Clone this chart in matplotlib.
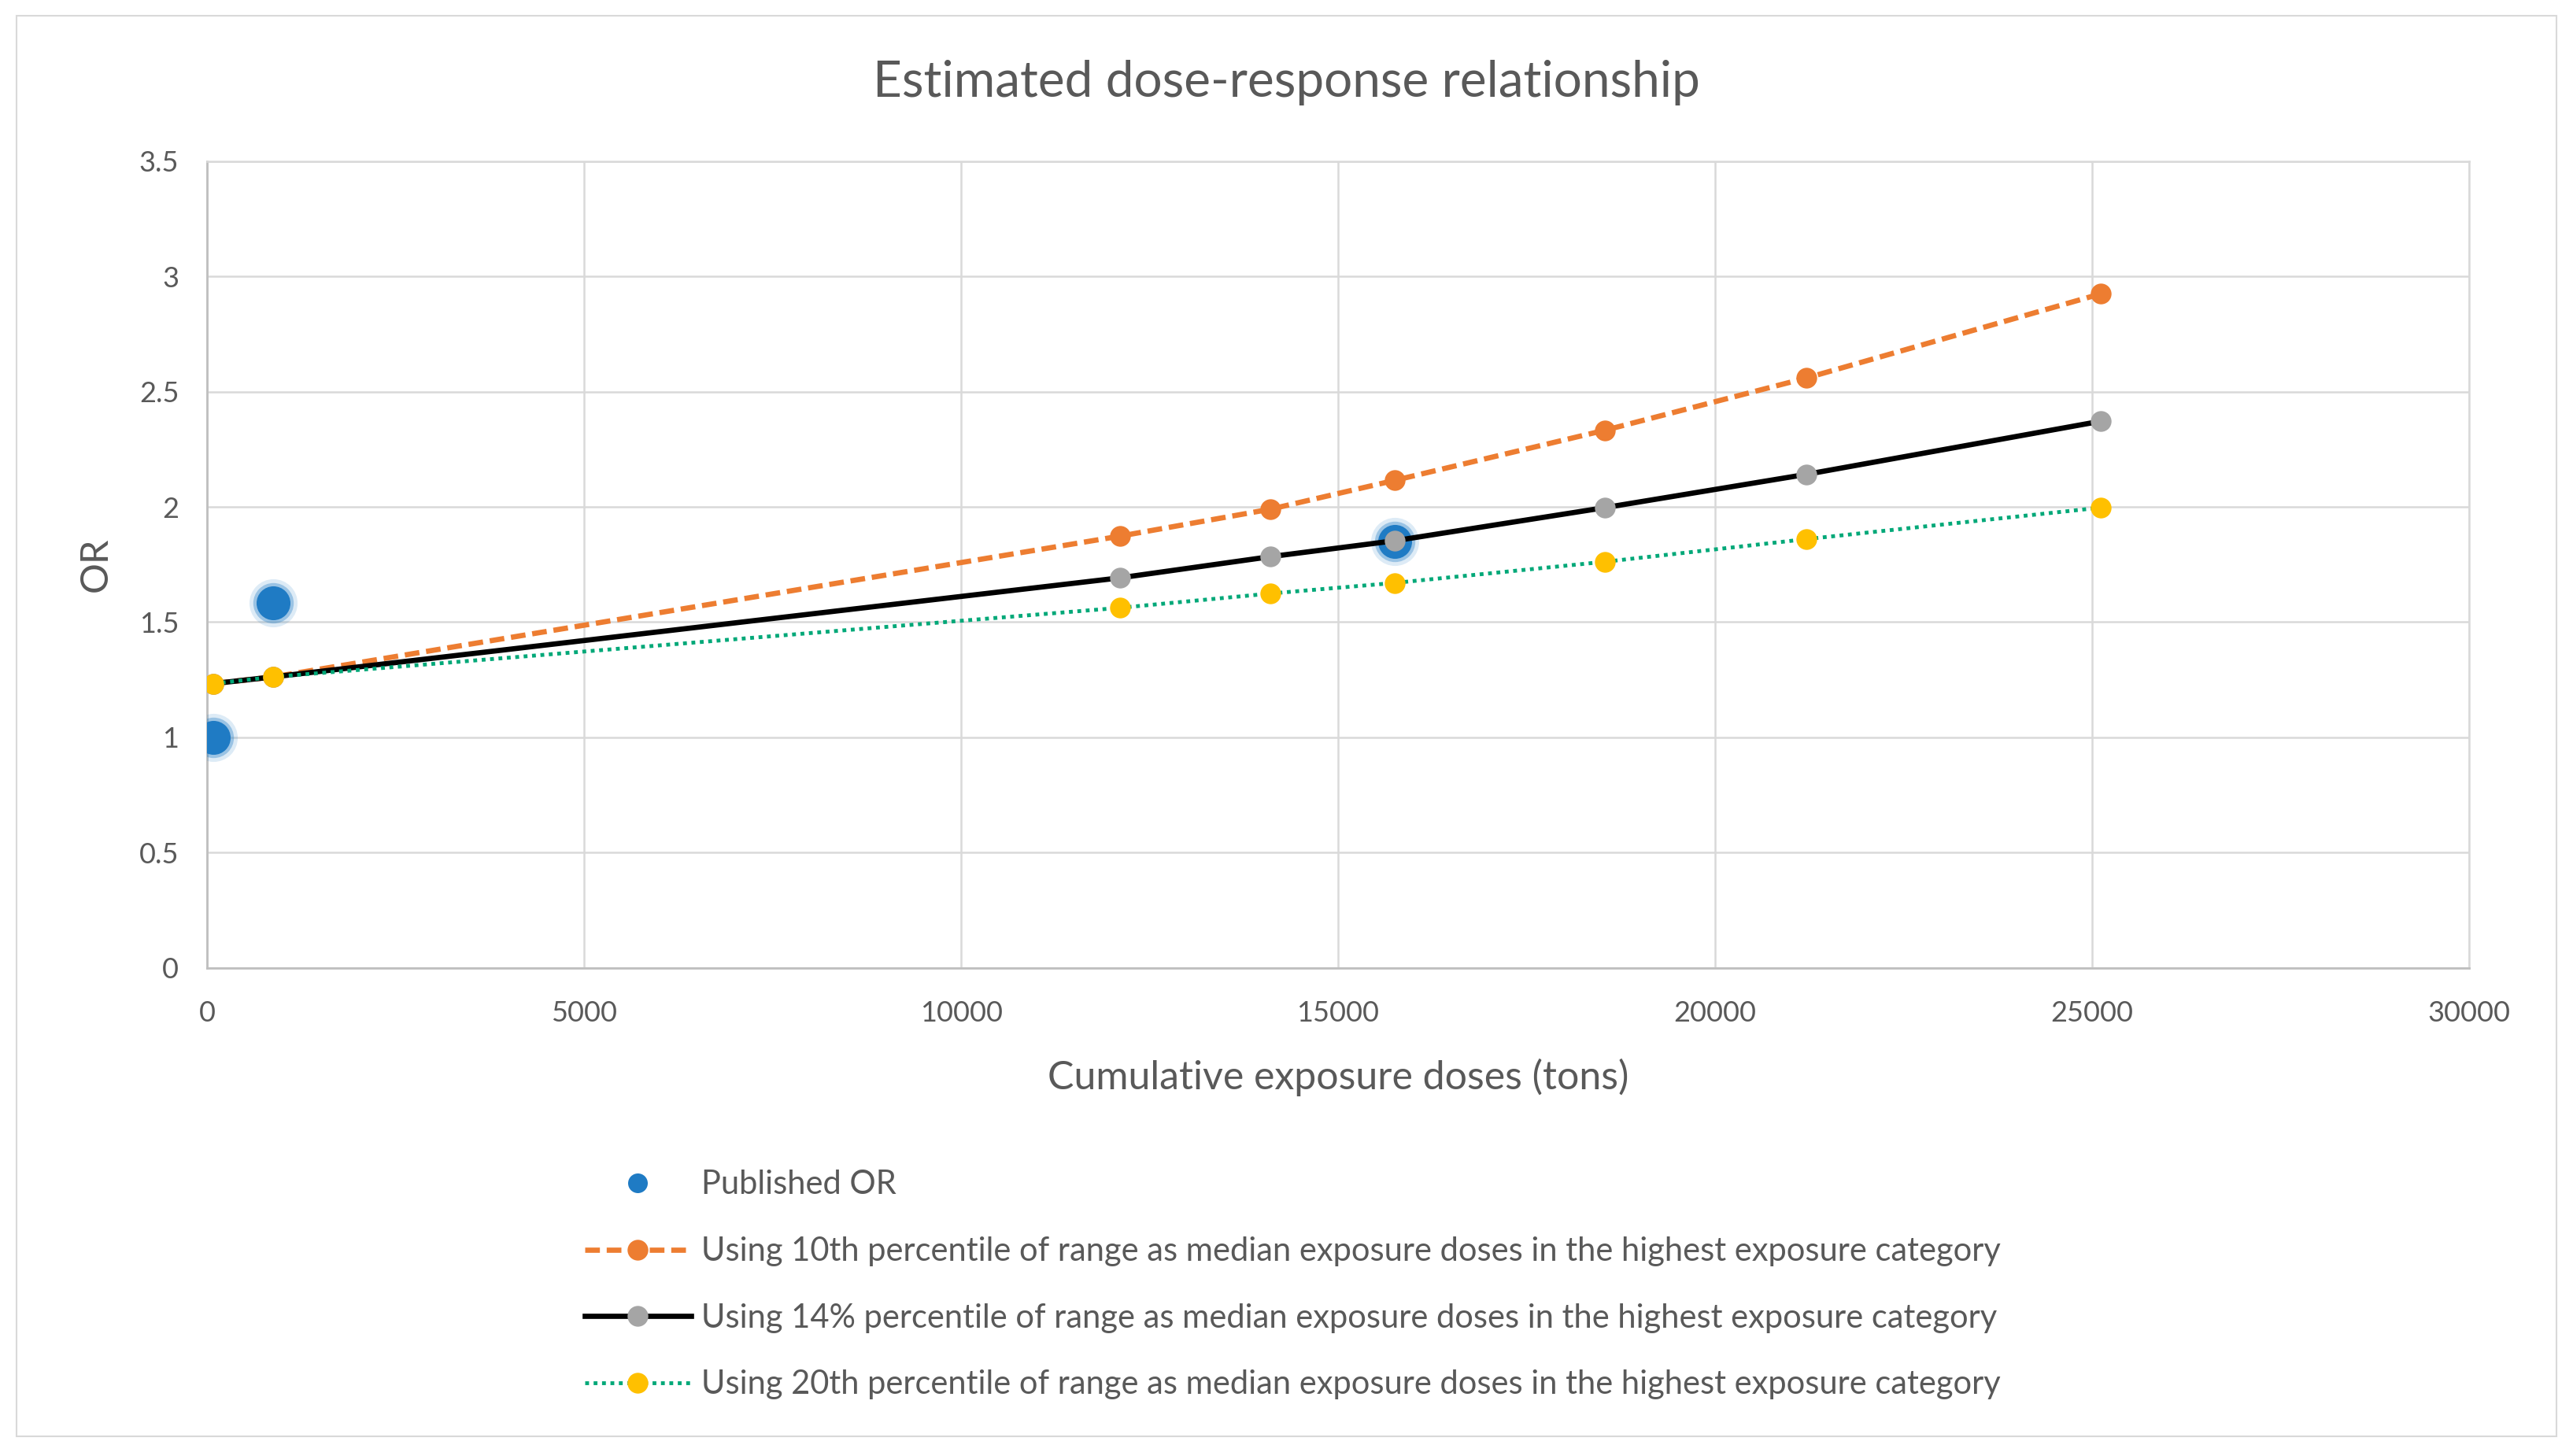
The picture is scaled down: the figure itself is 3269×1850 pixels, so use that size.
import matplotlib.pyplot as plt
from matplotlib.patches import Rectangle
from matplotlib.ticker import FuncFormatter

# データ
dose = [80, 870, 12106, 14102, 15749, 18543, 21208, 25120]
or_10th = [1.233, 1.262, 1.873, 1.990, 2.115, 2.333, 2.559, 2.925]
or_14pct = [1.233, 1.262, 1.692, 1.784, 1.853, 1.997, 2.141, 2.372]
or_20th = [1.233, 1.262, 1.562, 1.624, 1.670, 1.762, 1.860, 1.997]

published_dose = [80, 870, 15749]
published_or = [1.0, 1.583, 1.849]

labels = [
    'Published OR',
    'Using 10th percentile of range as median exposure doses in the highest exposure category',
    'Using 14% percentile of range as median exposure doses in the highest exposure category',
    'Using 20th percentile of range as median exposure doses in the highest exposure category',
]

plt.rcParams['font.family'] = ['Lato', 'DejaVu Sans']
text_color = '#595959'

fig = plt.figure(figsize=(32.69, 18.5), dpi=100)
ax = fig.add_axes([0.0806, 0.3354, 0.8789, 0.5538])

# 外枠
fig.patches.append(Rectangle((0.0065, 0.0135), 0.987, 0.9755, transform=fig.transFigure,
                             fill=False, edgecolor='#D9D9D9', linewidth=1.5))

# 公表値（にじんだ点）
for s, a in [(44, 0.15), (37, 0.35), (31, 1.0)]:
    ax.plot(published_dose, published_or, 'o', color='#1F7BC4', markersize=s,
            markeredgewidth=0, alpha=a, zorder=3)
h_pub, = ax.plot([], [], 'o', color='#1F7BC4', markersize=18, markeredgewidth=0)

h10, = ax.plot(dose, or_10th, color='#ED7D31', linewidth=4.8, dashes=(2.8, 1.3),
               marker='o', markersize=19, markerfacecolor='#ED7D31',
               markeredgewidth=0, zorder=4)
h14, = ax.plot(dose, or_14pct, color='black', linewidth=4.8,
               marker='o', markersize=19, markerfacecolor='#A5A5A5',
               markeredgewidth=0, zorder=4)
h20, = ax.plot(dose, or_20th, color='#00A878', linewidth=3.5, dashes=(1, 1.2),
               marker='o', markersize=19, markerfacecolor='#FFC000',
               markeredgewidth=0, zorder=4)

ax.set_xlim(0, 30000)
ax.set_ylim(0, 3.5)
ax.set_xticks(range(0, 30001, 5000))
ax.set_yticks([0, 0.5, 1, 1.5, 2, 2.5, 3, 3.5])
ax.yaxis.set_major_formatter(FuncFormatter(lambda v, p: f'{v:g}'))
ax.grid(True, color='#D9D9D9', linewidth=1.8)
ax.set_axisbelow(True)
for side in ['top', 'right']:
    ax.spines[side].set_color('#D9D9D9')
    ax.spines[side].set_linewidth(1.8)
for side in ['left', 'bottom']:
    ax.spines[side].set_color('#BFBFBF')
    ax.spines[side].set_linewidth(2)
ax.tick_params(length=0, labelsize=26, colors=text_color)
ax.tick_params(axis='x', pad=30)
ax.tick_params(axis='y', pad=26)

ax.set_xlabel('Cumulative exposure doses (tons)', fontsize=36, color=text_color, labelpad=29)
ax.set_ylabel('OR', fontsize=35, color=text_color, labelpad=24)
fig.text(0.5, 0.9435, 'Estimated dose-response relationship', fontsize=46,
         color=text_color, ha='center', va='center')

leg = fig.legend([h_pub, h10, h14, h20], labels, loc='upper left',
                 bbox_to_anchor=(0.2157, 0.2168), frameon=False,
                 fontsize=30, labelcolor=text_color, handlelength=3.25,
                 handletextpad=0.3, labelspacing=1.12)

fig.savefig('out.png', dpi=100)
